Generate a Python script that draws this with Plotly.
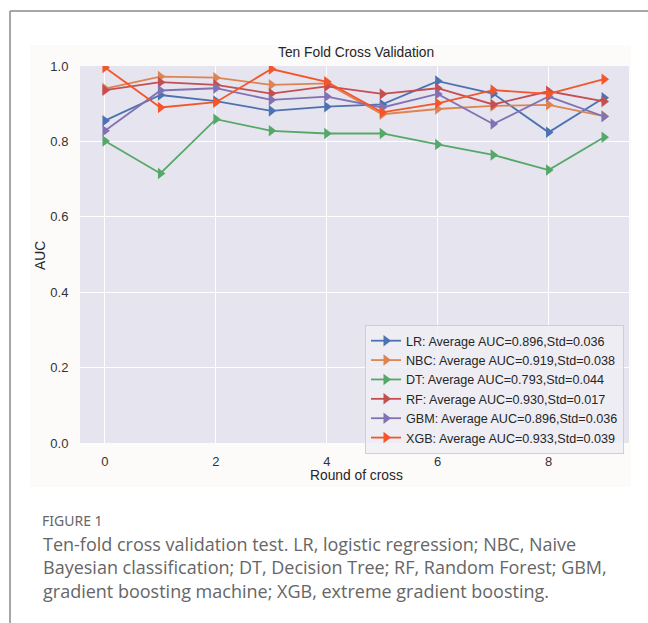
import plotly.graph_objects as go

rounds = list(range(10))
lr  = [0.855, 0.923, 0.907, 0.881, 0.892, 0.898, 0.960, 0.927, 0.824, 0.916]
nbc = [0.940, 0.972, 0.969, 0.950, 0.954, 0.872, 0.886, 0.894, 0.897, 0.867]
dt  = [0.801, 0.715, 0.859, 0.828, 0.821, 0.821, 0.792, 0.764, 0.724, 0.811]
rf  = [0.936, 0.957, 0.950, 0.927, 0.946, 0.926, 0.941, 0.898, 0.933, 0.906]
gbm = [0.828, 0.935, 0.941, 0.910, 0.919, 0.890, 0.926, 0.846, 0.919, 0.866]
xgb = [0.996, 0.890, 0.904, 0.992, 0.958, 0.877, 0.901, 0.936, 0.926, 0.965]

names = [
    "LR: Average AUC=0.896,Std=0.036",
    "NBC: Average AUC=0.919,Std=0.038",
    "DT: Average AUC=0.793,Std=0.044",
    "RF: Average AUC=0.930,Std=0.017",
    "GBM: Average AUC=0.896,Std=0.036",
    "XGB: Average AUC=0.933,Std=0.039",
]
series = [lr, nbc, dt, rf, gbm, xgb]
colors = ["#4C72B0", "#DD8452", "#55A868", "#C44E52", "#8172B3", "#F4552A"]

W, H = 648, 623
L, R, T, B = 80, 19, 66, 180
pw, ph = W - L - R, H - T - B

def px(x):
    return (x - L) / pw

def py(y):
    return (H - B - y) / ph

fig = go.Figure()
for n, s, c in zip(names, series, colors):
    fig.add_trace(go.Scatter(
        x=rounds, y=s, name=n, mode="lines+markers",
        line=dict(color=c, width=1.8),
        marker=dict(symbol="triangle-right", size=10, color=c),
    ))

font = "Liberation Sans, Arial, sans-serif"
shapes = [
    dict(type="rect", xref="paper", yref="paper", x0=px(30), x1=px(631), y0=py(487), y1=py(45),
         fillcolor="#FCFBFA", line=dict(width=0), layer="below"),
    dict(type="rect", xref="paper", yref="paper", x0=0, x1=1, y0=0, y1=1,
         fillcolor="#E6E4EE", line=dict(width=0), layer="below"),
    dict(type="line", xref="paper", yref="paper", x0=px(10), x1=px(10), y0=py(11), y1=py(640),
         line=dict(color="#8a8a8a", width=1.5)),
    dict(type="line", xref="paper", yref="paper", x0=px(10), x1=px(660), y0=py(11), y1=py(11),
         line=dict(color="#8a8a8a", width=1.5)),
]

def ann(text, x, y, size, family=font, color="#262626", xanchor="center", angle=0):
    return dict(text=text, x=px(x), y=py(y), xref="paper", yref="paper",
                xanchor=xanchor, yanchor="middle", textangle=angle, showarrow=False,
                font=dict(family=family, size=size, color=color))

annotations = [
    ann("Ten Fold Cross Validation", 356, 53, 13.8),
    ann("Round of cross", 356, 476, 13.8),
    ann("AUC", 40, 255, 13.8, angle=-90),
    ann("FIGURE 1", 40, 520, 14, family="Noto Sans", color="#666666", xanchor="left"),
]
caption = [
    "Ten-fold cross validation test. LR, logistic regression; NBC, Naive",
    "Bayesian classification; DT, Decision Tree; RF, Random Forest; GBM,",
    "gradient boosting machine; XGB, extreme gradient boosting.",
]
for i, line in enumerate(caption):
    annotations.append(ann(line, 41, 544 + 23.3 * i, 18, family="Open Sans",
                           color="#666666", xanchor="left"))

fig.update_layout(
    width=W, height=H,
    margin=dict(l=L, r=R, t=T, b=B, pad=0),
    paper_bgcolor="white",
    plot_bgcolor="rgba(0,0,0,0)",
    font=dict(family=font, size=13, color="#333333"),
    showlegend=True,
    legend=dict(x=px(365), y=py(325), xanchor="left", yanchor="top",
                bgcolor="rgba(240,239,245,0.85)", bordercolor="#cfcfcf", borderwidth=1,
                font=dict(family=font, size=12.6, color="#262626"),
                itemwidth=30, tracegroupgap=0),
    shapes=shapes,
    annotations=annotations,
    xaxis=dict(range=[-0.45, 9.45], tickvals=[0, 2, 4, 6, 8], showgrid=True,
               gridcolor="white", gridwidth=1.2, zeroline=False, showline=False,
               ticks="outside", ticklen=6, tickcolor="rgba(0,0,0,0)",
               tickfont=dict(family=font, size=13, color="#333333")),
    yaxis=dict(range=[0, 1], tickvals=[0, 0.2, 0.4, 0.6, 0.8, 1.0],
               ticktext=["0.0", "0.2", "0.4", "0.6", "0.8", "1.0"], showgrid=True,
               gridcolor="white", gridwidth=1.2, zeroline=False, showline=False,
               ticks="outside", ticklen=8, tickcolor="rgba(0,0,0,0)",
               tickfont=dict(family=font, size=13, color="#333333")),
)

fig.write_html("out.html")
